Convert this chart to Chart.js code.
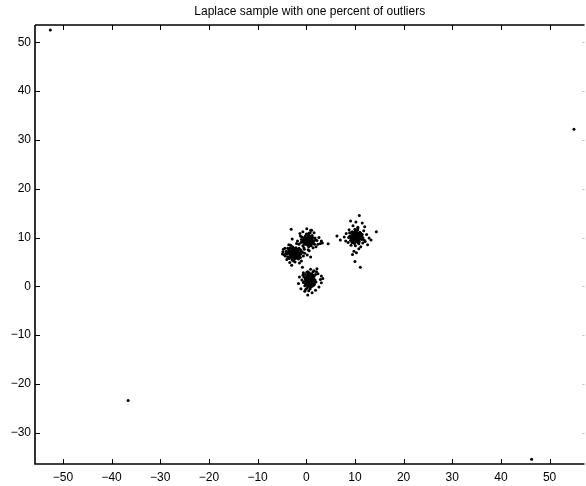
<!DOCTYPE html>
<html>
<head>
<meta charset="utf-8">
<script src="https://cdn.jsdelivr.net/npm/chart.js@4/dist/chart.umd.min.js"></script>
<style>
html,body{margin:0;padding:0;background:#fff;overflow:hidden;}
#wrap{width:586px;height:486px;position:relative;}
</style>
</head>
<body>
<div id="wrap"><canvas id="c" width="586" height="486"></canvas></div>
<script>
const titleText = "Laplace sample with one percent of outliers";
const xTicks = [-50,-40,-30,-20,-10,0,10,20,30,40,50];
const yTicks = [-30,-20,-10,0,10,20,30,40,50];
const xRange = [-55.74, 57.17];
const yRange = [-36.41, 53.55];

const clusterUpperLeft = [
[0.1,11.8],[0.9,11.5],[-1.3,10.8],[2.9,8.8],[2.2,9.4],[1.6,11.0],[-0.7,11.2],[1.2,10.4],[-1.0,9.6],[2.0,8.1],[-0.4,7.6],[1.4,7.9],[2.6,10.0],[-1.5,8.6],[0.5,10.9],[3.1,9.3],[-0.9,10.1],[1.8,9.9],[4.5,8.7],[3.3,8.9],
[0.3,9.2],[0.6,9.0],[0.0,9.4],[0.4,9.6],[0.8,9.3],[-0.2,9.0],[0.2,8.8],[0.7,8.7],[0.5,9.9],[-0.1,9.8],[1.0,9.7],[1.1,9.0],[-0.4,9.3],[0.9,8.5],[0.1,8.5],[0.4,10.2],[-0.3,8.6],[1.3,9.4],[-0.6,9.6],[0.6,10.4],[0.3,9.5],[0.2,9.1],[0.5,8.9],[0.0,8.9],[0.8,9.8],[1.4,8.8],[-0.5,8.9],[0.2,10.0],[0.7,9.4],[0.9,10.1],[-0.1,9.5],[0.4,8.4],[1.2,9.6],[0.6,9.2],[0.1,9.3],[-0.8,9.2],[1.5,9.2],[0.3,10.6],[-0.2,10.3],[1.0,8.3],[0.5,8.1],[-0.3,9.9],[1.7,8.6],[0.8,11.0],[-1.1,9.0],
[0.2,9.7],[0.9,9.0],[-0.4,10.0],[1.3,10.0],[0.6,8.6],[-0.7,8.3],[1.9,9.5],[0.0,10.7],[1.1,11.5],[-1.2,10.3],[2.4,8.6],[0.4,7.5]
];
const clusterLeft = [
[-4.7,7.6],[-4.4,7.8],[-4.9,6.6],[-3.1,11.7],[-3.0,4.3],[-4.0,5.5],[-1.0,5.2],[0.2,6.4],[0.6,7.3],[-3.6,8.5],[-2.0,8.8],[-4.3,6.2],[-1.4,4.8],[-3.4,4.9],[-0.5,7.9],[-2.3,5.0],[0.9,6.0],[-4.8,7.1],[-1.8,9.3],[-2.9,9.7],
[-2.5,6.8],[-2.2,6.7],[-2.8,7.0],[-2.0,7.1],[-3.0,6.6],[-2.6,6.3],[-2.3,7.3],[-1.8,6.5],[-3.2,7.2],[-2.7,7.5],[-1.6,7.0],[-3.5,6.8],[-2.1,6.1],[-2.9,6.1],[-1.9,7.6],[-3.3,6.4],[-2.4,7.8],[-1.5,6.4],[-3.7,7.0],[-2.6,5.9],[-2.0,6.6],[-2.8,6.8],[-2.4,6.5],[-2.5,7.1],[-1.7,7.3],[-3.1,5.9],[-3.9,6.6],[-1.3,6.8],[-2.2,5.7],[-3.0,7.7],[-1.2,7.5],[-3.6,7.5],[-2.1,7.9],[-2.7,6.0],[-1.9,5.9],[-3.4,6.1],[-2.3,6.9],[-2.6,7.2],[-1.4,6.2],[-4.1,7.2],[-2.9,6.4],[-2.0,7.4],[-3.3,7.9],[-1.1,6.6],[-2.5,5.6],[-3.8,6.0],[-1.6,5.6],[-2.8,8.1],[-0.8,7.0],[-4.2,6.8],[-2.4,6.2],[-1.9,6.9],[-3.1,6.9],[-2.6,6.6],[-0.6,6.2],[-2.2,7.6],[-3.5,5.7],[-1.5,7.8],[-2.9,5.4],[-1.2,5.9],
[-2.3,6.4],[-2.7,6.9],[-3.4,7.3],[-1.7,6.1],[-2.9,7.3],[-2.1,6.9],[-3.8,7.8],[-1.0,7.2],[-4.5,6.4],[-2.6,5.2],[-0.3,6.8],[-3.2,8.4]
];
const clusterBottom = [
[2.2,3.6],[-1.4,1.9],[3.1,2.1],[3.1,0.75],[2.6,-0.15],[0.3,-1.8],[-0.8,3.9],[1.6,3.2],[-1.1,-0.5],[2.9,1.4],[-0.3,-1.0],[1.9,-0.8],[-1.6,0.6],[0.9,3.5],[3.4,1.6],[-0.6,2.8],[2.4,2.6],[1.2,-1.3],
[0.5,1.0],[0.2,1.3],[0.8,0.8],[0.4,1.6],[0.9,1.4],[0.1,0.7],[0.6,0.4],[1.1,1.0],[0.0,1.1],[0.7,1.9],[0.3,0.2],[1.2,1.7],[-0.2,1.5],[0.5,2.2],[1.0,0.3],[-0.1,0.4],[1.4,1.2],[0.3,1.9],[0.8,2.4],[0.6,1.2],[0.2,0.9],[1.3,0.6],[-0.4,1.0],[0.9,-0.1],[0.4,0.0],[1.6,2.0],[0.1,2.0],[0.7,1.5],[-0.3,0.1],[1.1,2.6],[0.5,0.6],[1.5,0.2],[0.0,1.7],[0.8,1.1],[0.3,1.4],[1.0,1.8],[-0.5,1.9],[0.6,2.8],[1.2,0.0],[0.2,-0.3],[1.8,1.3],[0.4,2.5],[-0.6,0.8],[1.7,0.5],[0.7,0.0],[0.1,2.9],[1.3,2.3],[-0.1,-0.6],[0.9,0.6],[0.6,1.7],[1.5,1.5],[0.4,0.8],[-0.2,2.4],[2.0,0.9],[0.3,3.0],[0.8,-0.5],[1.9,2.4],[-0.9,1.3],[0.5,-0.9],[1.4,3.0],
[0.6,0.9],[0.3,1.1],[1.0,1.3],[0.1,1.5],[0.7,0.2],[1.2,2.0],[-0.2,0.8],[0.9,2.1],[0.4,0.4],[1.6,1.0],[-0.7,2.3],[2.1,3.0]
];
const clusterRight = [
[10.9,14.5],[9.1,13.4],[10.2,13.2],[11.5,13.0],[14.4,11.2],[6.3,10.3],[7.0,9.5],[9.8,7.2],[9.5,6.5],[10.3,6.9],[10.0,5.1],[11.1,3.9],[13.3,9.5],[12.6,8.5],[8.8,11.6],[11.8,11.4],[12.4,10.6],[8.2,10.8],[8.6,9.0],[9.2,8.4],[11.6,8.9],[12.9,9.9],[7.8,10.1],[10.6,12.1],[9.6,12.4],[11.2,8.1],[10.8,7.7],[12.1,9.2],[8.9,10.2],[9.3,11.1],
[10.1,10.2],[10.4,10.0],[9.9,9.8],[10.3,10.5],[10.6,10.3],[9.7,10.4],[10.0,9.6],[10.5,9.7],[10.2,10.8],[9.8,10.9],[10.7,10.9],[11.0,10.2],[9.5,10.0],[10.8,9.5],[9.6,9.3],[10.2,9.2],[11.1,9.8],[9.4,10.6],[10.9,10.6],[10.1,11.3],[9.2,9.7],[11.3,10.4],[10.4,11.0],[9.9,10.5],[10.3,9.4],[10.6,9.0],[9.7,9.0],[11.4,9.6],[9.0,10.3],[10.0,11.7],[10.5,11.5],[11.0,11.1],[9.3,10.0],[10.2,9.9],[10.4,10.4],[9.8,10.1],[10.7,10.1],[10.1,10.7],[10.0,10.0],[10.3,9.8],[9.6,9.7],[11.2,10.9],[9.1,9.4],[10.8,8.7],[9.5,11.2],[10.6,11.8],[11.6,10.0],[8.7,10.0],[10.9,9.2],[9.9,8.8],
[10.0,10.4],[10.5,10.2],[9.8,9.5],[10.3,11.0],[11.5,10.6],[9.4,9.0],[10.6,9.4],[8.9,11.0],[11.9,9.5],[10.1,8.3],[12.0,12.2],[8.1,9.3]
];
const outliers = [[-52.6,52.5],[55.0,32.2],[-36.6,-23.4],[46.3,-35.45]];

const allPoints = clusterUpperLeft.concat(clusterLeft, clusterBottom, clusterRight, outliers)
  .map(p => ({x: p[0], y: p[1]}));

const fmt = v => String(v).replace('-', '\u2212');

const axesPlugin = {
  id: 'matlabAxes',
  afterDraw(chart) {
    const {ctx, chartArea: a, scales: {x, y}} = chart;
    ctx.save();
    ctx.strokeStyle = '#000';
    ctx.lineWidth = 1;
    ctx.beginPath();
    xTicks.forEach(v => {
      const px = Math.round(x.getPixelForValue(v)) + 0.5;
      ctx.moveTo(px, a.bottom); ctx.lineTo(px, a.bottom - 5);
      ctx.moveTo(px, a.top); ctx.lineTo(px, a.top + 5);
    });
    yTicks.forEach(v => {
      const py = Math.round(y.getPixelForValue(v)) + 0.5;
      ctx.moveTo(a.left, py); ctx.lineTo(a.left + 5, py);
    });
    ctx.stroke();
    ctx.strokeStyle = '#bbb';
    ctx.beginPath();
    yTicks.forEach(v => {
      const py = Math.round(y.getPixelForValue(v)) + 0.5;
      ctx.moveTo(a.right - 2, py); ctx.lineTo(a.right, py);
    });
    ctx.stroke();
    ctx.strokeStyle = '#000';
    ctx.lineWidth = 1.6;
    ctx.beginPath();
    ctx.moveTo(a.left, a.top); ctx.lineTo(a.right, a.top);
    ctx.moveTo(a.left, a.top); ctx.lineTo(a.left, a.bottom);
    ctx.lineTo(a.right, a.bottom);
    ctx.stroke();
    ctx.restore();
  }
};

new Chart(document.getElementById('c'), {
  type: 'scatter',
  data: {
    datasets: [{
      data: allPoints,
      backgroundColor: '#000',
      borderWidth: 0,
      pointRadius: 1.5,
      pointHoverRadius: 1.5
    }]
  },
  options: {
    responsive: false,
    animation: false,
    events: [],
    layout: {padding: 0},
    plugins: {
      legend: {display: false},
      tooltip: {enabled: false},
      title: {
        display: true,
        text: titleText,
        color: '#000',
        fullSize: false,
        font: {family: 'Liberation Sans', size: 12, weight: 'normal'},
        padding: {top: 4, bottom: 6.6}
      }
    },
    scales: {
      x: {
        type: 'linear',
        min: xRange[0], max: xRange[1],
        grid: {display: false, drawTicks: false},
        border: {display: false},
        afterBuildTicks: s => { s.ticks = xTicks.map(v => ({value: v})); },
        afterFit: s => { s.height = 22; },
        ticks: {
          color: '#000', padding: 6, maxRotation: 0, autoSkip: false,
          font: {family: 'Liberation Sans', size: 12},
          callback: v => fmt(v)
        }
      },
      y: {
        type: 'linear',
        min: yRange[0], max: yRange[1],
        grid: {display: false, drawTicks: false},
        border: {display: false},
        afterBuildTicks: s => { s.ticks = yTicks.map(v => ({value: v})); },
        afterFit: s => { s.width = 35; },
        ticks: {
          color: '#000', padding: 4, autoSkip: false,
          font: {family: 'Liberation Sans', size: 12},
          callback: v => fmt(v)
        }
      }
    }
  },
  plugins: [axesPlugin]
});
</script>
</body>
</html>
